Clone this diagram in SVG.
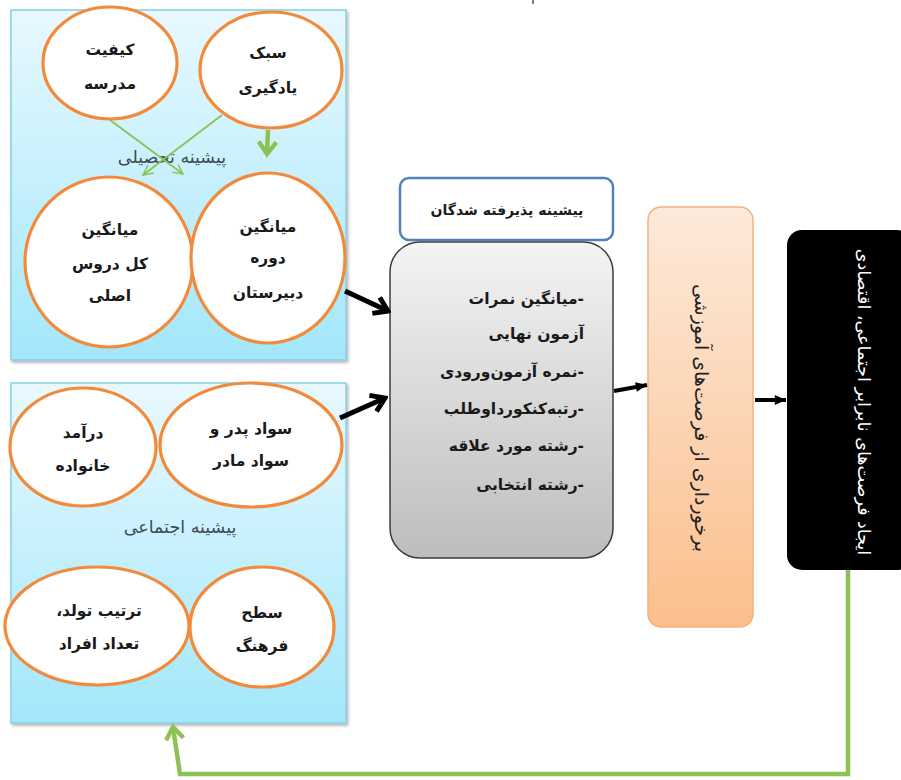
<svg xmlns="http://www.w3.org/2000/svg" width="901" height="780" viewBox="0 0 901 780">
<defs>
<linearGradient id="gPanel" x1="0" y1="0" x2="0" y2="1"><stop offset="0" stop-color="#e8f9fe"/><stop offset="1" stop-color="#a3e7fb"/></linearGradient>
<linearGradient id="gGray" x1="0" y1="0" x2="0" y2="1"><stop offset="0" stop-color="#f4f4f4"/><stop offset="1" stop-color="#bdbdbd"/></linearGradient>
<linearGradient id="gOrange" x1="0" y1="0" x2="0" y2="1"><stop offset="0" stop-color="#fdeadb"/><stop offset="1" stop-color="#fbbf8c"/></linearGradient>
<filter id="sh" x="-5%" y="-5%" width="110%" height="110%"><feDropShadow dx="1.5" dy="2" stdDeviation="1.5" flood-color="#000" flood-opacity="0.3"/></filter>
<marker id="ahB" viewBox="0 0 20 20" refX="17" refY="10" markerWidth="22" markerHeight="22" markerUnits="userSpaceOnUse" orient="auto"><path d="M5,2 L17,10 L5,18" fill="none" stroke="#000" stroke-width="4.5" stroke-linejoin="miter"/></marker>
<marker id="ahS" viewBox="0 0 20 20" refX="18" refY="10" markerWidth="14" markerHeight="14" markerUnits="userSpaceOnUse" orient="auto"><path d="M2,3 L18,10 L2,17 Z" fill="#000"/></marker>
<marker id="ahG" viewBox="0 0 20 20" refX="18" refY="10" markerWidth="14" markerHeight="14" markerUnits="userSpaceOnUse" orient="auto"><path d="M4,3 L18,10 L4,17" fill="none" stroke="#8dc153" stroke-width="2"/></marker>
<marker id="ahGT" viewBox="0 0 20 20" refX="16" refY="10" markerWidth="22" markerHeight="22" markerUnits="userSpaceOnUse" orient="auto"><path d="M5,2 L16,10 L5,18" fill="none" stroke="#8dc153" stroke-width="4"/></marker>
<style>
.panel{fill:url(#gPanel);stroke:#86d0e6;stroke-width:1.5;filter:url(#sh)}
.circ{fill:#fff;stroke:#f28a3a;stroke-width:3.2}
.t{font-family:"DejaVu Sans",sans-serif;font-weight:bold;font-size:15.5px;fill:#1a1a1a;text-anchor:middle;direction:rtl}
.ttl{font-family:"DejaVu Sans",sans-serif;font-weight:bold;font-size:14px;fill:#1a1a1a;text-anchor:middle;direction:rtl}
.lbl{font-family:"DejaVu Sans",sans-serif;font-size:17.5px;fill:#3e4a56;text-anchor:middle;direction:rtl}
.gl{font-family:"DejaVu Sans",sans-serif;font-weight:bold;font-size:15.5px;fill:#1a1a1a;text-anchor:start;direction:rtl}
.vt{font-family:"DejaVu Sans",sans-serif;text-anchor:middle;direction:rtl}
.blk{stroke:#000;stroke-width:5;fill:none}
.blks{stroke:#000;stroke-width:4;fill:none}
.grn{stroke:#8dc153;stroke-width:1.8;fill:none}
.grnT{stroke:#8dc153;stroke-width:4.5;fill:none}
</style>
</defs>
<rect width="901" height="780" fill="#fff"/>
<line x1="533" y1="0" x2="533" y2="4" stroke="#555" stroke-width="1.5"/>

<g id="panel-academic">
<rect class="panel" x="11" y="10" width="335" height="350"/>
<text class="lbl" x="172" y="163">پیشینه تحصیلی</text>
</g>
<g id="node-school-quality">
<ellipse class="circ" cx="110" cy="63" rx="67" ry="56"/>
<text class="t" x="110" y="55">کیفیت</text>
<text class="t" x="110" y="89">مدرسه</text>
</g>
<g id="node-learning-style">
<ellipse class="circ" cx="271" cy="70" rx="71" ry="58"/>
<text class="t" x="268" y="58">سبک</text>
<text class="t" x="268" y="93">یادگیری</text>
</g>
<g id="node-avg-main">
<ellipse class="circ" cx="109" cy="262" rx="84" ry="85"/>
<text class="t" x="110" y="235">میانگین</text>
<text class="t" x="110" y="269">کل دروس</text>
<text class="t" x="110" y="301">اصلی</text>
</g>
<g id="node-avg-highschool">
<ellipse class="circ" cx="268" cy="258" rx="77" ry="85"/>
<text class="t" x="268" y="232">میانگین</text>
<text class="t" x="268" y="263">دوره</text>
<text class="t" x="268" y="298">دبیرستان</text>
</g>

<g id="panel-social">
<rect class="panel" x="11" y="383" width="335" height="340"/>
<text class="lbl" x="180" y="533">پیشینه اجتماعی</text>
</g>
<g id="node-income">
<ellipse class="circ" cx="83" cy="447" rx="73" ry="59"/>
<text class="t" x="83" y="438">درآمد</text>
<text class="t" x="83" y="471">خانواده</text>
</g>
<g id="node-parents-literacy">
<ellipse class="circ" cx="251" cy="445" rx="91" ry="62"/>
<text class="t" x="251" y="434">سواد پدر و</text>
<text class="t" x="251" y="466">سواد مادر</text>
</g>
<g id="node-birth-order">
<ellipse class="circ" cx="97" cy="626" rx="92" ry="59"/>
<text class="t" x="99" y="616">ترتیب تولد،</text>
<text class="t" x="99" y="649">تعداد افراد</text>
</g>
<g id="node-culture">
<ellipse class="circ" cx="262" cy="627" rx="72" ry="60"/>
<text class="t" x="262" y="618">سطح</text>
<text class="t" x="262" y="651">فرهنگ</text>
</g>

<g id="node-admitted-title">
<rect x="400" y="178" width="213" height="62" rx="9" fill="#fff" stroke="#4f81bd" stroke-width="2.5"/>
<text class="ttl" x="507" y="215">پیشینه پذیرفته شدگان</text>
</g>
<g id="node-admitted-list">
<rect x="390" y="242" width="223" height="316" rx="30" fill="url(#gGray)" stroke="#3c3c3c" stroke-width="1.5"/>
<text class="gl" x="584" y="304">-میانگین نمرات</text>
<text class="gl" x="584" y="339">آزمون نهایی</text>
<text class="gl" x="584" y="377">-نمره آزمون‌ورودی</text>
<text class="gl" x="584" y="414">-رتبه‌کنکورداوطلب</text>
<text class="gl" x="584" y="451">-رشته مورد علاقه</text>
<text class="gl" x="584" y="490">-رشته انتخابی</text>
</g>
<g id="node-benefit">
<rect x="648" y="207" width="105" height="420" rx="13" fill="url(#gOrange)" stroke="#f4b183" stroke-width="1.5"/>
<text class="vt" font-size="19" fill="#222" transform="translate(702,418) rotate(90)" y="7">برخورداری از فرصت‌های آموزشی</text>
</g>
<g id="node-inequality">
<rect x="787" y="230" width="125" height="340" rx="15" fill="#000"/>
<text class="vt" font-size="17.5" fill="#fff" transform="translate(864,402) rotate(90)" y="6">ایجاد فرصت‌های نابرابر اجتماعی، اقتصادی</text>
</g>

<g id="connectors">
<line class="grn" x1="110" y1="120" x2="183" y2="174" marker-end="url(#ahG)"/>
<line class="grn" x1="222" y1="115" x2="143" y2="175" marker-end="url(#ahG)"/>
<line class="grnT" x1="268" y1="130" x2="267" y2="154" marker-end="url(#ahGT)"/>
<line class="blk" x1="345" y1="291" x2="388" y2="311" marker-end="url(#ahB)"/>
<line class="blk" x1="340" y1="418" x2="385" y2="398" marker-end="url(#ahB)"/>
<line class="blks" x1="614" y1="391" x2="647" y2="385" marker-end="url(#ahS)"/>
<line class="blks" x1="755" y1="400" x2="786" y2="400" marker-end="url(#ahS)"/>
<path class="grnT" d="M848,570 V774 H180 L173,727" marker-end="url(#ahGT)"/>
</g>
</svg>
